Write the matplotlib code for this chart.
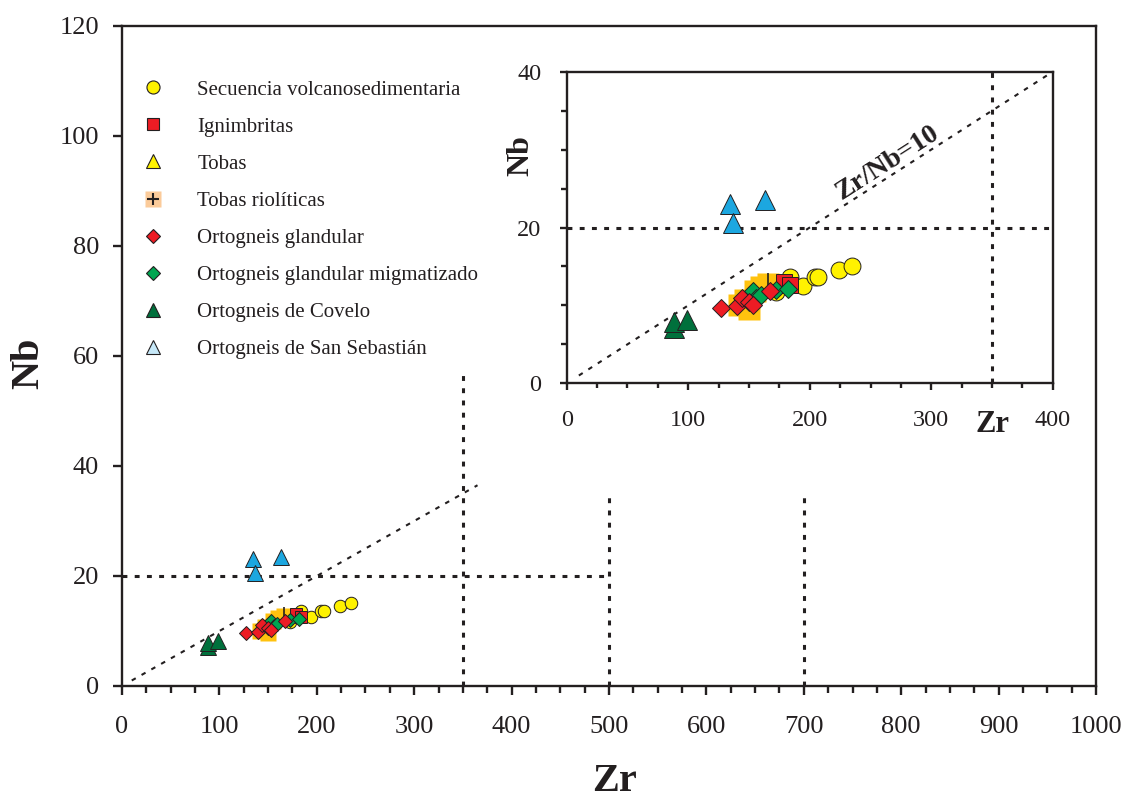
import matplotlib
matplotlib.use("Agg")
import matplotlib.pyplot as plt
from matplotlib.lines import Line2D
import numpy as np

plt.rcParams['font.family'] = ['Liberation Serif', 'DejaVu Serif']
TXT = '#231f20'

# ---------------- data (Zr, Nb) ----------------
volc_zr = [172, 183.5, 194.5, 204, 207, 224, 235]
volc_nb = [11.7, 13.6, 12.5, 13.6, 13.7, 14.6, 15.1]

ign_zr = [178.5, 183.5]
ign_nb = [13.0, 12.6]

tobas_zr = []
tobas_nb = []

tobriol_zr = [142, 147, 150, 155, 160, 166]
tobriol_nb = [10.0, 10.7, 9.6, 11.8, 12.4, 12.8]

ortg_zr = [127, 140, 144, 150, 153, 167.5]
ortg_nb = [9.7, 9.9, 11.0, 10.5, 10.1, 11.9]

ortgm_zr = [153, 156, 159.5, 172.5, 182]
ortgm_nb = [11.8, 10.9, 11.3, 12.0, 12.1]

cov_zr = [88.5, 88.5, 99]
cov_nb = [7.1, 7.9, 8.1]

ssb_zr = [134.5, 136.5, 163]
ssb_nb = [23.0, 20.6, 23.5]

labels = ['Secuencia volcanosedimentaria', 'Ignimbritas', 'Tobas',
          'Tobas riolíticas', 'Ortogneis glandular',
          'Ortogneis glandular migmatizado', 'Ortogneis de Covelo',
          'Ortogneis de San Sebastián']

ratio_line_zr = [10, 365]
ratio_line_zr_in = [10, 400]
ratio = 10.0

# ---------------- figure ----------------
fig = plt.figure(figsize=(11.24, 7.99), dpi=100)
ax = fig.add_axes([0.10854, 0.14143, 0.86655, 0.82603])
axi = fig.add_axes([0.50418, 0.52027, 0.43247, 0.38999])

def style_axes(a, xlim, ylim, xmaj, xmin, ymaj, ymin, lab_size, xpad, ypad, majl, minl, yminl):
    a.set_xlim(*xlim)
    a.set_ylim(*ylim)
    for s in a.spines.values():
        s.set_linewidth(1.7)
        s.set_color(TXT)
    a.set_xticks(np.arange(xlim[0], xlim[1] + 1, xmaj))
    a.set_xticks(np.arange(xlim[0], xlim[1] + 1, xmin), minor=True)
    a.set_yticks(np.arange(ylim[0], ylim[1] + 1, ymaj))
    if ymin:
        a.set_yticks(np.arange(ylim[0], ylim[1] + 1, ymin), minor=True)
    a.tick_params(axis='both', which='major', direction='out', width=1.7,
                  color=TXT, labelcolor=TXT, labelsize=lab_size)
    a.tick_params(axis='x', which='major', length=majl, pad=xpad)
    a.tick_params(axis='y', which='major', length=majl, pad=ypad)
    a.tick_params(axis='x', which='minor', direction='out', length=minl, width=1.7, color=TXT)
    a.tick_params(axis='y', which='minor', direction='out', length=yminl, width=1.7, color=TXT)
    a.set_facecolor('white')

style_axes(ax, (0, 1000), (0, 120), 100, 25, 20, None, 19, 15, 10, 6.5, 4.8, 0)
style_axes(axi, (0, 400), (0, 40), 100, 25, 20, 5, 17.5, 14, 13, 5.2, 3.8, 4.5)

dot = (0, (1.6, 2.4))
diag = (0, (2.2, 3.2))

# main reference lines
ax.plot([350, 350], [0, 57.5], color=TXT, lw=2.2, ls=dot)
ax.plot([500, 500], [0, 35.5], color=TXT, lw=2.2, ls=dot)
ax.plot([700, 700], [0, 35.5], color=TXT, lw=2.2, ls=dot)
ax.plot([0, 500], [20, 20], color=TXT, lw=2.2, ls=dot)
ax.plot(ratio_line_zr, [z / ratio for z in ratio_line_zr], color=TXT, lw=1.5, ls=diag)

# inset reference lines
axi.plot([350, 350], [0, 40], color=TXT, lw=2.2, ls=dot, clip_on=False)
axi.plot([0, 400], [20, 20], color=TXT, lw=2.2, ls=dot)
axi.plot(ratio_line_zr_in, [z / ratio for z in ratio_line_zr_in], color=TXT, lw=1.5, ls=diag)

EC = '#231f20'
def draw_points(a, scale):
    a.plot(tobriol_zr, tobriol_nb, ls='none', marker='s', ms=12 * scale, mfc='#ffc20e',
           mec='none', zorder=3)
    a.plot(tobriol_zr[-1:], [tobriol_nb[-1] + 0.4], ls='none', marker='|', ms=8 * scale,
           mec=EC, mew=1.2, zorder=3.1)
    a.plot(volc_zr, volc_nb, ls='none', marker='o', ms=9 * scale, mfc='#fff200', mec=EC,
           mew=0.7, zorder=4)
    a.plot(ign_zr, ign_nb, ls='none', marker='s', ms=8.5 * scale, mfc='#ed1c24', mec=EC,
           mew=0.7, zorder=4.5)
    a.plot(ortgm_zr, ortgm_nb, ls='none', marker='D', ms=6.8 * scale, mfc='#00a651', mec=EC,
           mew=0.7, zorder=5)
    a.plot(ortg_zr, ortg_nb, ls='none', marker='D', ms=6.8 * scale, mfc='#ed1c24', mec=EC,
           mew=0.7, zorder=5.5)
    a.plot(cov_zr, cov_nb, ls='none', marker='^', ms=11 * scale, mfc='#00703c', mec=EC,
           mew=0.7, zorder=6)
    a.plot(ssb_zr, ssb_nb, ls='none', marker='^', ms=11 * scale, mfc='#1ca7e0', mec=EC,
           mew=0.7, zorder=6)
    if tobas_zr:
        a.plot(tobas_zr, tobas_nb, ls='none', marker='^', ms=10 * scale, mfc='#fff200', mec=EC)

draw_points(ax, 1.0)
draw_points(axi, 1.35)

# inset labels
axi.text(350, -0.085, 'Zr', transform=axi.get_xaxis_transform(), ha='center', va='top',
         fontsize=22, fontweight='bold', color=TXT)
axi.text(-0.095, 0.73, 'Nb', transform=axi.transAxes, ha='center', va='center',
         rotation=90, fontsize=23, fontweight='bold', color=TXT)
# slope angle in screen space
fig.canvas.draw()
p1 = axi.transData.transform((100, 10))
p2 = axi.transData.transform((300, 30))
ang = np.degrees(np.arctan2(p2[1] - p1[1], p2[0] - p1[0]))
axi.text(264, 28.3, 'Zr/Nb=10', ha='center', va='center', rotation=ang,
         fontsize=20, fontweight='bold', color=TXT, rotation_mode='anchor')

# main labels
fig.text(615 / 1124, 8 / 799, 'Zr', ha='center', va='baseline', fontsize=29,
         fontweight='bold', color=TXT)
fig.text(29 / 1124, 1 - 363 / 799, 'Nb', ha='center', va='center', rotation=90,
         fontsize=29, fontweight='bold', color=TXT)

# legend
handles = [
    Line2D([], [], ls='none', marker='o', ms=9.4, mfc='#fff200', mec=EC, mew=0.8),
    Line2D([], [], ls='none', marker='s', ms=9.0, mfc='#ed1c24', mec=EC, mew=0.8),
    Line2D([], [], ls='none', marker='^', ms=10.5, mfc='#fff200', mec=EC, mew=0.8),
    (Line2D([], [], ls='none', marker='s', ms=12, mfc='#fbcb9a', mec='none'),
     Line2D([], [], ls='none', marker='+', ms=9, mec=EC, mew=1.5)),
    Line2D([], [], ls='none', marker='D', ms=7.0, mfc='#ed1c24', mec=EC, mew=0.8),
    Line2D([], [], ls='none', marker='D', ms=7.0, mfc='#00a651', mec=EC, mew=0.8),
    Line2D([], [], ls='none', marker='^', ms=10.5, mfc='#00703c', mec=EC, mew=0.8),
    Line2D([], [], ls='none', marker='^', ms=10.5, mfc='#c6e8f8', mec=EC, mew=0.8),
]
leg = fig.legend(handles, labels, loc='upper left',
                 bbox_to_anchor=(137 / 1124, 1 - 80 / 799), frameon=False,
                 fontsize=15, handlelength=1.5, handletextpad=1.4, labelspacing=0.84,
                 borderpad=0, borderaxespad=0)
for t in leg.get_texts():
    t.set_color(TXT)

fig.savefig('out.png', dpi=100, facecolor='white')
